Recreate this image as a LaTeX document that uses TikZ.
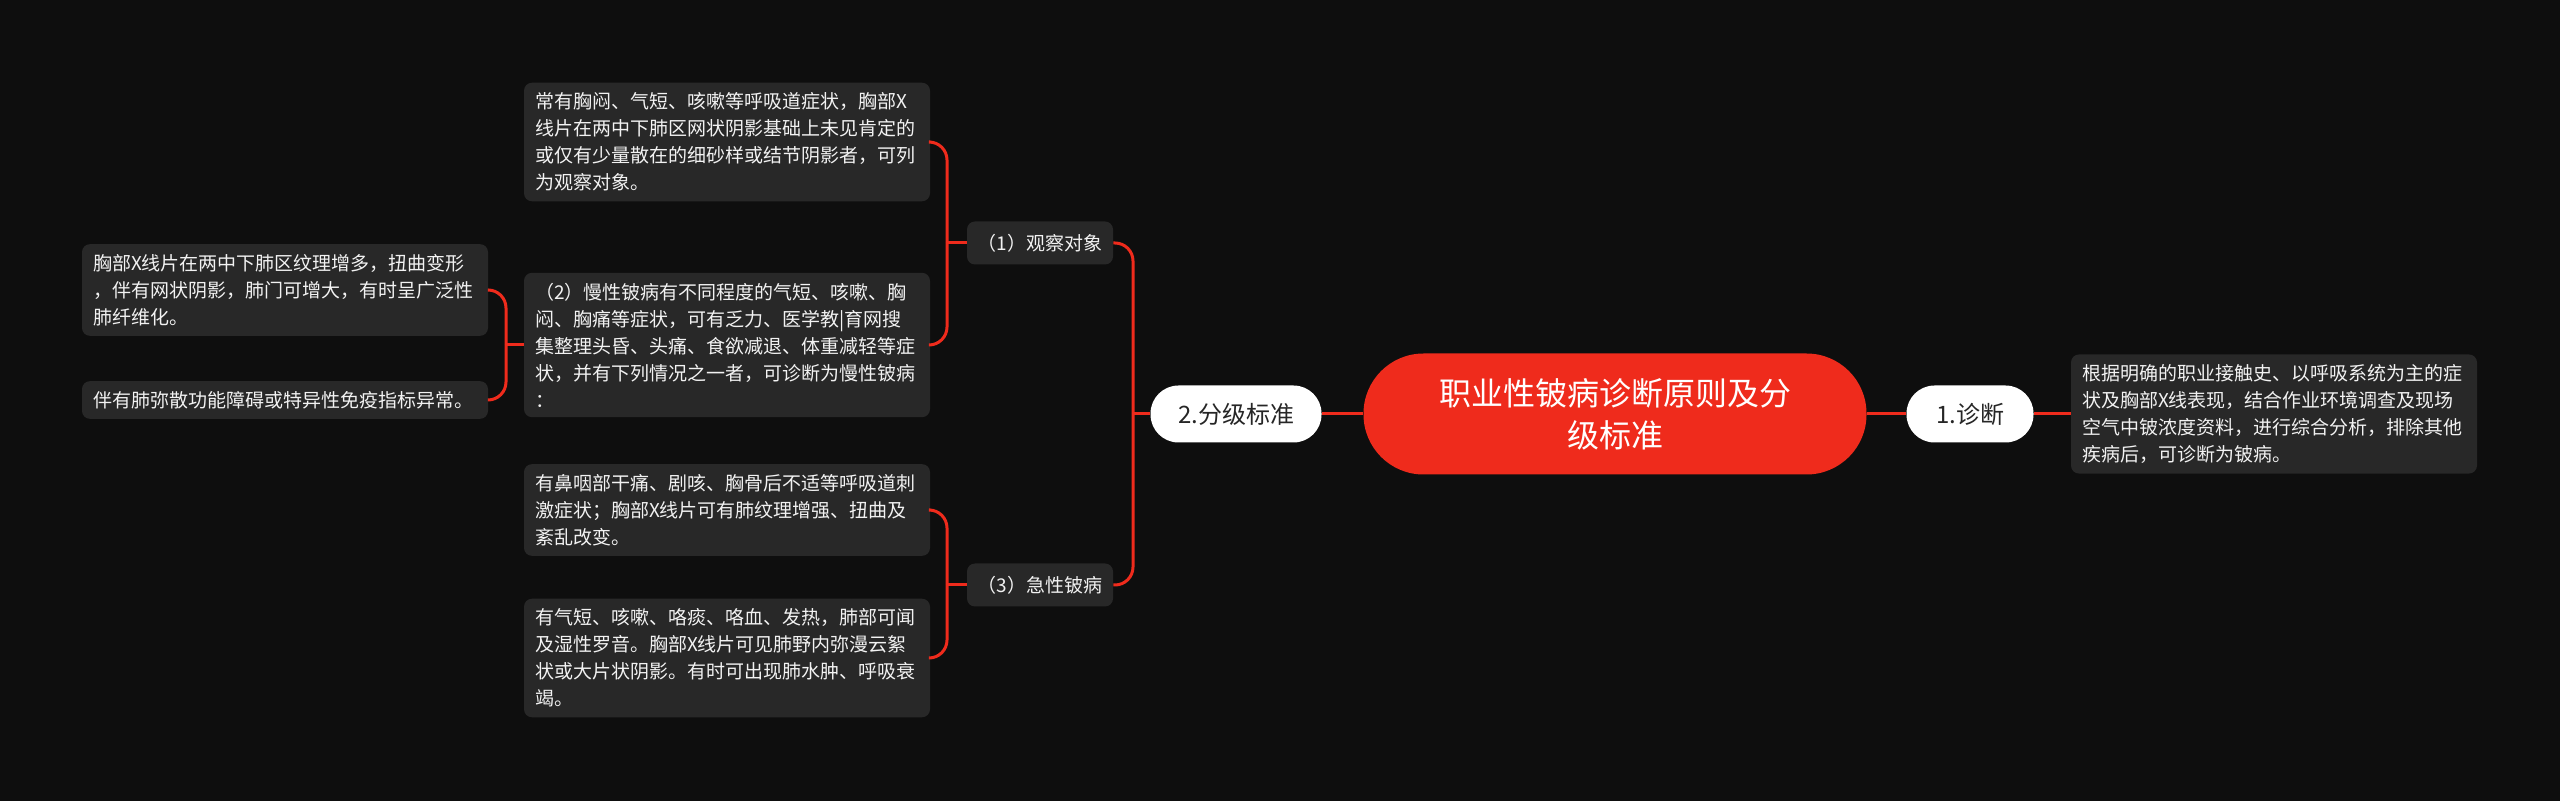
\documentclass[tikz,border=0pt]{standalone}
\usepackage{fontspec}
\setmainfont{Noto Sans CJK SC}
\definecolor{bgdark}{HTML}{0E0E0E}
\definecolor{boxgray}{HTML}{282828}
\definecolor{mapred}{HTML}{EF2B1C}
\definecolor{txtwhite}{HTML}{F2F2F2}

\begin{document}
\begin{tikzpicture}[x=0.5pt, y=-0.5pt,
    link/.style={draw=mapred, line width=1.5pt},
    bendlink/.style={link, rounded corners=9pt},
    leaf/.style={fill=boxgray, text=txtwhite, rounded corners=4pt, align=left, text width=192pt,
        inner xsep=5.5pt, inner ysep=5pt, font=\fontsize{9.5pt}{13.5pt}\selectfont},
    sub/.style={fill=boxgray, text=txtwhite, rounded corners=4pt, minimum width=73pt,
        minimum height=21.5pt, inner sep=0pt, font=\fontsize{9.5pt}{12pt}\selectfont},
    pill/.style={fill=white, text=black!85, rounded corners=14pt, minimum height=28.5pt,
        inner sep=0pt, font=\fontsize{12pt}{14pt}\selectfont}]

    \fill[bgdark] (0,0) rectangle (2560,801);
    \useasboundingbox (0,0) rectangle (2560,801);

    % centre and first level
    \node[fill=mapred, text=white, rounded corners=30pt, minimum width=251.5pt, minimum height=60.5pt,
        align=center, font=\fontsize{16pt}{21pt}\selectfont] (root) at (1615, 414) {职业性铍病诊断原则及分\\级标准};
    \node[pill, minimum width=63.5pt] (diag) at (1970, 414) {1.诊断};
    \node[pill, minimum width=85.5pt] (fen) at (1236, 414) {2.分级标准};

    \node[leaf] (diagtxt) at (2274, 414) {根据明确的职业接触史、以呼吸系统为主的症\\状及胸部X线表现，结合作业环境调查及现场\\空气中铍浓度资料，进行综合分析，排除其他\\疾病后，可诊断为铍病。};

    % second level
    \node[sub] (obs) at (1040, 243) {（1）观察对象};
    \node[sub] (acute) at (1040, 585) {（3）急性铍病};

    \node[leaf] (b1) at (727, 142) {常有胸闷、气短、咳嗽等呼吸道症状，胸部X\\线片在两中下肺区网状阴影基础上未见肯定的\\或仅有少量散在的细砂样或结节阴影者，可列\\为观察对象。};
    \node[leaf] (b2) at (727, 345) {（2）慢性铍病有不同程度的气短、咳嗽、胸\\闷、胸痛等症状，可有乏力、医学教|育网搜\\集整理头昏、头痛、食欲减退、体重减轻等症\\状，并有下列情况之一者，可诊断为慢性铍病\\：};
    \node[leaf] (b3) at (727, 510) {有鼻咽部干痛、剧咳、胸骨后不适等呼吸道刺\\激症状；胸部X线片可有肺纹理增强、扭曲及\\紊乱改变。};
    \node[leaf] (b4) at (727, 658) {有气短、咳嗽、咯痰、咯血、发热，肺部可闻\\及湿性罗音。胸部X线片可见肺野内弥漫云絮\\状或大片状阴影。有时可出现肺水肿、呼吸衰\\竭。};

    \node[leaf] (l1) at (285, 290) {胸部X线片在两中下肺区纹理增多，扭曲变形\\，伴有网状阴影，肺门可增大，有时呈广泛性\\肺纤维化。};
    \node[leaf] (l2) at (285, 400) {伴有肺弥散功能障碍或特异性免疫指标异常。};

    % connectors
    \coordinate (jfen) at (1133, 414);
    \coordinate (jobs) at (947, 243);
    \coordinate (jacute) at (947, 585);
    \coordinate (jchron) at (506, 345);

    \draw[link] (root.west) -- (fen.east);
    \draw[link] (root.east) -- (diag.west);
    \draw[link] (diag.east) -- (diagtxt.west);

    \draw[link] (fen.west) -- (jfen);
    \draw[bendlink] (jfen) |- (obs.east);
    \draw[bendlink] (jfen) |- (acute.east);

    \draw[link] (obs.west) -- (jobs);
    \draw[bendlink] (jobs) |- (b1.east);
    \draw[bendlink] (jobs) |- (b2.east);

    \draw[link] (acute.west) -- (jacute);
    \draw[bendlink] (jacute) |- (b3.east);
    \draw[bendlink] (jacute) |- (b4.east);

    \draw[link] (b2.west) -- (jchron);
    \draw[bendlink] (jchron) |- (l1.east);
    \draw[bendlink] (jchron) |- (l2.east);
\end{tikzpicture}
\end{document}
